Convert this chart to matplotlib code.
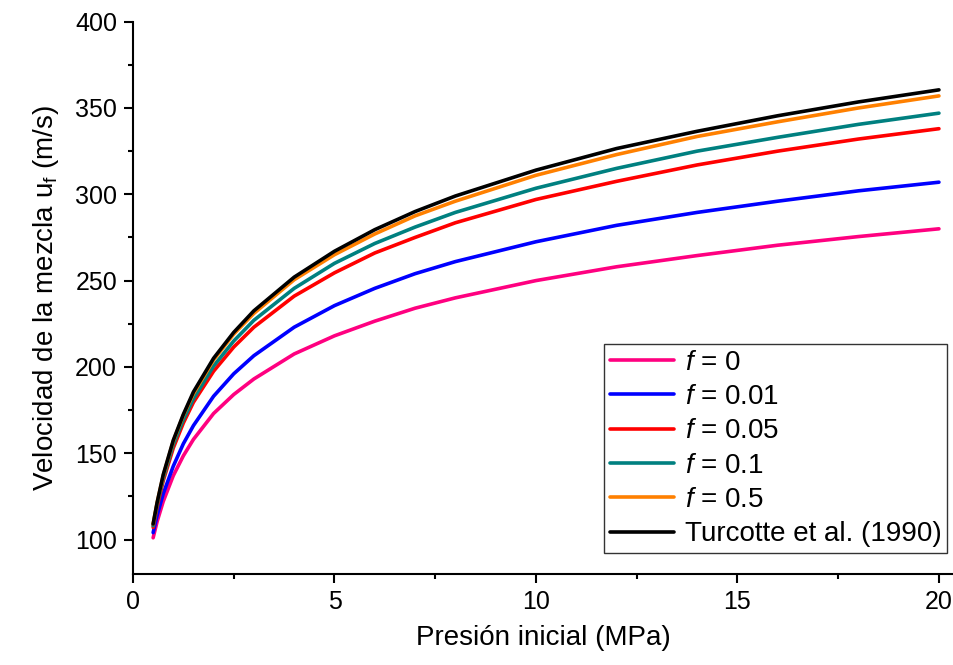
import matplotlib
matplotlib.use("Agg")
import matplotlib.pyplot as plt
from matplotlib.ticker import MultipleLocator

plt.rcParams['font.family'] = ['Liberation Sans', 'DejaVu Sans']
plt.rcParams['mathtext.fontset'] = 'custom'
plt.rcParams['mathtext.rm'] = 'Liberation Sans'
plt.rcParams['mathtext.it'] = 'Liberation Sans:italic'

# initial pressure (MPa)
presion = [0.5, 0.6, 0.75, 1, 1.25, 1.5, 2, 2.5, 3, 4, 5, 6, 7, 8, 10, 12, 14, 16, 18, 20]

# mixture velocity (m/s)
f_0 = [101, 110.5, 122, 137, 148.5, 158, 173, 184, 193, 207.5, 218, 226.5, 234, 240, 250, 258, 264.5, 270.5, 275.5, 280]
f_001 = [104, 114, 126.5, 142.5, 155.5, 166, 183, 196, 206.5, 223, 235.5, 245.5, 254, 261, 272.5, 282, 289.5, 296, 302, 307]
f_005 = [107, 119, 134, 153, 167.5, 179.5, 197.5, 211.5, 223, 241, 254.5, 266, 275, 283.5, 297, 307.5, 317, 325, 332, 338]
f_01 = [108, 120.5, 135.5, 155, 169.5, 181.5, 200.5, 215, 227, 245.5, 260, 271.5, 281, 289.5, 303.5, 315, 325, 333, 340.5, 347]
f_05 = [109, 121.5, 137, 157, 172, 184.5, 204, 219, 231, 250.5, 265, 277, 287.5, 296, 311, 323, 333.5, 342, 350, 357]
turcotte = [109, 121.5, 137.5, 157.5, 172.5, 185.5, 205, 220, 232.5, 252, 267, 279.5, 290, 299, 314, 326.5, 336.5, 345.5, 353.5, 360.5]

series = [
    (f_0, r'$f$ = 0', '#FF0080'),
    (f_001, r'$f$ = 0.01', '#0000FF'),
    (f_005, r'$f$ = 0.05', '#FF0000'),
    (f_01, r'$f$ = 0.1', '#008080'),
    (f_05, r'$f$ = 0.5', '#FF8000'),
    (turcotte, 'Turcotte et al. (1990)', '#000000'),
]

fig = plt.figure(figsize=(9.54, 6.65), dpi=100)
ax = fig.add_axes([0.1394, 0.1368, 0.8596, 0.8306])

for vals, lab, col in series:
    ax.plot(presion, vals, color=col, lw=2.6, label=lab,
            solid_joinstyle='round', solid_capstyle='round')

ax.set_xlim(0, 20.35)
ax.set_ylim(80, 400)
ax.xaxis.set_major_locator(MultipleLocator(5))
ax.xaxis.set_minor_locator(MultipleLocator(2.5))
ax.yaxis.set_major_locator(MultipleLocator(50))
ax.yaxis.set_minor_locator(MultipleLocator(25))
ax.set_yticks([100, 150, 200, 250, 300, 350, 400])

for s in ['top', 'right']:
    ax.spines[s].set_visible(False)
for s in ['left', 'bottom']:
    ax.spines[s].set_linewidth(1.5)

ax.tick_params(which='major', direction='out', length=6.5, width=1.5, labelsize=18, pad=5)
ax.tick_params(which='minor', direction='out', length=3.5, width=1.5)

ax.set_xlabel('Presión inicial (MPa)', fontsize=20, labelpad=8)
ax.set_ylabel(r'Velocidad de la mezcla u$_\mathrm{f}$ (m/s)', fontsize=20, labelpad=10)

leg = ax.legend(loc='lower right', bbox_to_anchor=(0.993, 0.038), borderaxespad=0,
                fontsize=20, frameon=True, fancybox=False, framealpha=1,
                edgecolor='#333333', handlelength=2.3, handletextpad=0.4,
                labelspacing=0.3, borderpad=0.2)
leg.get_frame().set_linewidth(1.0)

fig.savefig('out.png', dpi=100)
